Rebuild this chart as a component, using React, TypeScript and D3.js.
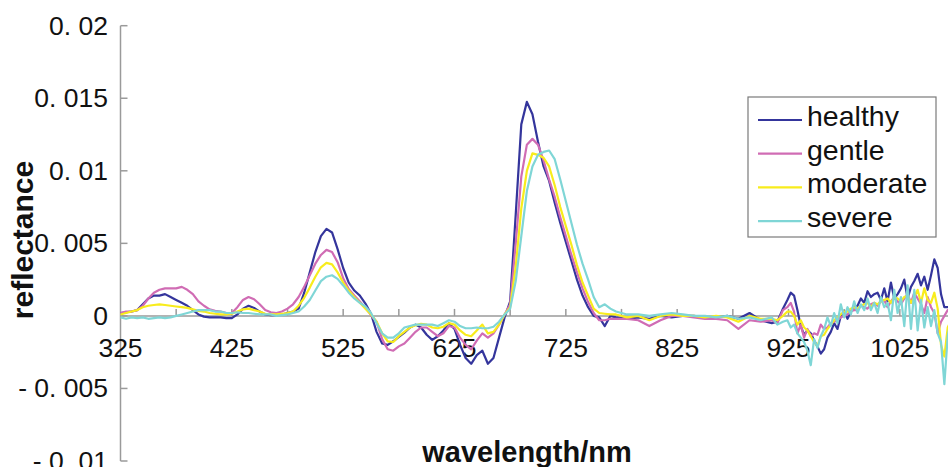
import * as d3 from "d3";

// wavelength samples (nm)
const wavelengths = [
  325, 330, 335, 340, 345, 350, 355, 360, 365, 370, 375, 380, 385, 390, 395, 400, 405, 410, 415, 420,
  425, 430, 435, 440, 445, 450, 455, 460, 465, 470, 475, 480, 485, 490, 495, 500, 505, 510, 515, 520,
  525, 530, 535, 540, 545, 550, 555, 560, 565, 570, 575, 580, 585, 590, 595, 600, 605, 610, 615, 620,
  625, 630, 635, 640, 645, 650, 655, 660, 665, 670, 675, 680, 685, 690, 695, 700, 705, 710, 715, 720,
  725, 730, 735, 740, 745, 750, 755, 760, 765, 770,
  780, 790, 800, 810, 820, 830, 840, 850, 860, 870, 880, 890, 900, 910,
  915, 920,
  924, 927, 930, 933, 936, 939, 942, 945, 948, 951, 954, 957, 960, 963, 966, 969, 972, 975, 978, 981,
  984, 987, 990, 993, 996, 999, 1002, 1005, 1008, 1011, 1014, 1017, 1020, 1023, 1026, 1029, 1032, 1035, 1038, 1041,
  1044, 1047, 1050, 1053, 1056, 1059, 1062, 1065, 1068, 1071, 1074,
];

// reflectance in units of 1e-3
const healthy = [
  0.2, 0.25, 0.3, 0.4, 0.8, 1.2, 1.4, 1.4, 1.5, 1.3,
  1.1, 0.9, 0.7, 0.4, 0.1, -0.05, -0.1, -0.1, -0.1, -0.15,
  -0.15, 0.1, 0.5, 0.7, 0.55, 0.3, 0.1, 0.05, 0.05, 0.1,
  0.2, 0.3, 0.5, 1.6, 3.0, 4.4, 5.5, 6.0, 5.75, 4.6,
  3.3, 2.3, 1.75, 1.4, 0.85, 0.15, -1.1, -1.9, -2.0, -1.75,
  -1.45, -1.15, -0.8, -0.6, -0.8, -1.3, -1.65, -1.4, -1.0, -0.5,
  -0.9, -2.0, -2.9, -3.3, -2.7, -2.4, -3.3, -2.9, -1.5, -0.1,
  1.0, 7.0, 13.2, 14.75, 13.9, 12.0, 10.3, 9.3, 7.8, 6.4,
  5.1, 3.8, 2.5, 1.4, 0.6, 0.0, -0.1, -0.7, 0.0, -0.1,
  -0.2, -0.1, -0.2, 0.0, -0.1, 0.0, 0.0, -0.1, -0.1, 0.0, -0.2, 0.2, -0.3, -0.5,
  -0.4, 0.5,
  1.1, 1.6, 1.4, 0.4, -0.7, -1.3, -1.0, -1.2, -1.7, -2.1,
  -2.6, -2.3, -1.5, -1.1, -0.5, -0.9, 0.0, 0.3, -0.2, 0.3,
  0.6, 0.7, 1.2, 0.9, 1.7, 1.3, 1.5, 1.6, 1.1, 1.9,
  1.0, 2.3, 1.2, 1.5, 1.9, 2.5, 1.2, 2.0, 2.4, 2.9,
  2.1, 2.7, 1.8, 2.8, 3.9, 3.3, 1.5, 0.6, 0.6, 0.6,
  0.6,
];

const gentle = [
  0.2, 0.3, 0.3, 0.4, 0.7, 1.2, 1.6, 1.8, 1.9, 1.9,
  1.9, 2.0, 1.8, 1.5, 1.0, 0.7, 0.45, 0.35, 0.3, 0.2,
  0.2, 0.6, 1.1, 1.3, 1.15, 0.8, 0.4, 0.25, 0.2, 0.3,
  0.5, 0.8, 1.3, 2.0, 2.8, 3.6, 4.2, 4.55, 4.4, 3.7,
  2.6, 1.85, 1.4, 1.0, 0.55, 0.05, -0.4, -1.6, -2.3, -2.4,
  -2.1, -1.9, -1.5, -1.1, -0.8, -0.8, -1.1, -1.4, -1.2, -0.7,
  -0.8, -1.5, -2.0, -2.3, -1.7, -1.2, -1.5, -1.2, -0.6, 0.1,
  0.8, 5.0, 9.6, 11.8, 12.2, 11.8, 10.7, 9.4, 8.2, 6.8,
  5.5, 4.2, 3.0, 1.9, 0.95, 0.2, -0.3, -0.3, -0.2, -0.2,
  -0.2, -0.3, -0.7, -0.3, 0.0, 0.0, -0.1, -0.2, -0.2, -0.3, -0.9, -0.3, -0.4, -0.3,
  -0.5, 0.4,
  0.6, 0.9, 0.3, -1.2, -0.6, -1.5, -0.9, -1.4, -1.2, -1.3,
  -0.6, -0.9, -0.8, -0.5, -0.4, -0.3, -0.1, 0.0, 0.1, 0.3,
  0.4, 0.4, 0.7, 0.6, 0.5, 0.8, 0.9, 0.7, 1.0, 1.1,
  0.6, 1.0, 1.3, 1.0, 0.8, 1.2, 1.5, 0.9, 1.6, 1.2,
  0.8, 0.2, 1.3, 0.6, 0.2, -1.2, -0.4, 0.0, 0.4, 0.3,
  0.3,
];

const moderate = [
  0.1, 0.2, 0.3, 0.4, 0.6, 0.7, 0.75, 0.8, 0.75, 0.7,
  0.65, 0.6, 0.55, 0.45, 0.35, 0.3, 0.2, 0.15, 0.1, 0.1,
  0.15, 0.3, 0.45, 0.5, 0.4, 0.3, 0.15, 0.1, 0.1, 0.15,
  0.2, 0.3, 0.7, 1.25, 1.95, 2.7, 3.35, 3.65, 3.55, 3.0,
  2.3, 1.75, 1.3, 0.9, 0.5, 0.1, -0.4, -1.2, -1.75, -1.8,
  -1.4, -1.1, -0.8, -0.65, -0.55, -0.6, -0.8, -0.85, -0.75, -0.5,
  -0.6, -1.0, -1.3, -1.4, -1.0, -0.6, -1.2, -1.1, -0.6, 0.1,
  0.6, 3.4, 7.4, 10.0, 11.2, 11.1, 10.9, 10.3, 9.0, 7.5,
  6.2, 4.9, 3.5, 2.3, 1.4, 0.5, 0.2, 0.15, 0.1, 0.1,
  -0.1, 0.0, -0.3, 0.0, 0.1, 0.0, 0.0, -0.1, 0.0, -0.1, -0.4, 0.0, -0.2, -0.2,
  -0.3, 0.0,
  0.3, 0.3, 0.0, -0.6, -0.3, -0.8, -1.0, -1.4, -1.8, -2.1,
  -1.4, -1.3, -0.9, -0.6, -0.3, -0.1, 0.1, 0.3, 0.3, 0.5,
  0.6, 0.5, 0.7, 0.8, 0.9, 0.6, 0.9, 0.8, 1.0, 1.1,
  1.2, 0.9, 1.3, 1.2, 1.0, 1.3, 1.4, 0.9, 1.3, 1.8,
  0.9, 1.9, 1.1, 0.9, 1.6, 0.5, -2.0, -2.8, -0.8, -0.3,
  0.0,
];

const severe = [
  -0.1, -0.2, -0.1, -0.15, -0.1, -0.2, -0.15, -0.1, -0.15, -0.1,
  0.0, 0.1, 0.2, 0.3, 0.4, 0.4, 0.4, 0.3, 0.3, 0.2,
  0.2, 0.25, 0.2, 0.2, 0.15, 0.1, 0.1, 0.1, 0.0, 0.05,
  0.1, 0.2, 0.3, 0.65, 1.1, 1.75, 2.4, 2.7, 2.8, 2.55,
  2.1, 1.6, 1.2, 0.9, 0.65, 0.2, -0.5, -1.2, -1.5, -1.5,
  -1.2, -0.8, -0.7, -0.6, -0.6, -0.6, -0.6, -0.7, -0.5, -0.3,
  -0.4, -0.7, -0.85, -0.85, -0.8, -0.85, -0.85, -0.75, -0.4, 0.1,
  0.5, 2.4, 5.5, 8.6, 10.3, 11.1, 11.3, 11.4, 10.8, 9.4,
  7.9, 6.4, 4.9, 3.6, 2.5, 1.3, 0.6, 0.8, 0.5, 0.3,
  0.1, 0.1, 0.0, 0.1, 0.2, 0.1, 0.0, 0.0, -0.1, 0.0, -0.2, -0.1, -0.3, -0.1,
  -0.6, -0.4,
  -0.3, -0.8, -0.6, -1.2, -1.5, -1.8, -2.4, -3.4, -1.6, -2.2,
  -1.4, -0.9, -0.1, -0.7, 0.2, -0.5, 0.8, -0.1, 0.6, 0.1,
  1.0, 0.2, 0.8, 0.4, 1.2, 0.4, 0.9, 0.2, 1.3, 0.6,
  0.9, -0.3, 1.8, 0.2, 1.3, -0.7, 2.1, -0.9, 1.8, -1.0,
  1.1, -0.8, 0.6, -0.7, 0.4, -1.2, -1.8, -4.7, -1.4, -0.2,
  0.2,
];

const seriesNames = ["healthy", "gentle", "moderate", "severe"];
const seriesColors = ["#34359c", "#d06cb4", "#f8ec1c", "#7fd6d6"];
const seriesData = [healthy, gentle, moderate, severe];

const yTickValues = [-0.01, -0.005, 0, 0.005, 0.01, 0.015, 0.02];
const yTickLabels = ["- 0. 01", "- 0. 005", "0", "0. 005", "0. 01", "0. 015", "0. 02"];
const xTickLabels = [325, 425, 525, 625, 725, 825, 925, 1025];
const xTickMarks = [375, 425, 475, 525, 575, 625, 675, 725, 775, 825, 875, 925, 975, 1025, 1075];

const W = 948;
const H = 467;
const font = "'Liberation Sans', Arial, sans-serif";

export default function App() {
  const x = d3.scaleLinear().domain([325, 1075]).range([120.5, 955.5]);
  const y = d3.scaleLinear().domain([-0.01, 0.02]).range([461, 25.7]);

  const line = d3
    .line<number>()
    .x((_, i) => x(wavelengths[i]))
    .y((d) => y(d * 0.001));

  const axisColor = "#9a9a9a";

  return (
    <svg
      width={W}
      height={H}
      style={{ position: "absolute", left: 0, top: 0, background: "#fff" }}
      fontFamily={font}
    >
      <rect width={W} height={H} fill="#fff" />

      {/* y axis */}
      <line x1={x(325)} x2={x(325)} y1={y(0.02)} y2={y(-0.01)} stroke={axisColor} strokeWidth={1.5} />
      {yTickValues.map((v, i) => (
        <g key={"yt" + i}>
          <line x1={x(325)} x2={x(325) + 7} y1={y(v)} y2={y(v)} stroke={axisColor} strokeWidth={1.5} />
          <text x={108} y={y(v) + 9} textAnchor="end" fontSize={26.5} fill="#111">
            {yTickLabels[i]}
          </text>
        </g>
      ))}

      {/* x axis at zero */}
      <line x1={x(325)} x2={W} y1={y(0)} y2={y(0)} stroke={axisColor} strokeWidth={1.5} />
      {xTickMarks.map((t) => (
        <line key={"xm" + t} x1={x(t)} x2={x(t)} y1={y(0)} y2={y(0) - 7} stroke={axisColor} strokeWidth={1.5} />
      ))}
      {xTickLabels.map((t) => (
        <text key={"xl" + t} x={x(t)} y={357} textAnchor="middle" fontSize={26.5} fill="#111">
          {t}
        </text>
      ))}

      {/* series */}
      {seriesData.map((s, i) => (
        <path
          key={seriesNames[i]}
          d={line(s) || ""}
          fill="none"
          stroke={seriesColors[i]}
          strokeWidth={2.2}
          strokeLinejoin="round"
        />
      ))}

      {/* axis titles */}
      <text
        transform="translate(33,240) rotate(-90)"
        textAnchor="middle"
        fontSize={30}
        fontWeight="bold"
        fill="#111"
      >
        reflectance
      </text>
      <text x={527} y={462} textAnchor="middle" fontSize={29} fontWeight="bold" fill="#111">
        wavelength/nm
      </text>

      {/* legend */}
      <rect x={748} y={97} width={188} height={140} fill="#fff" stroke="#7a7a7a" strokeWidth={1.2} />
      {seriesNames.map((name, i) => {
        const ly = 120 + i * 33.7;
        return (
          <g key={"lg" + name}>
            <line x1={758} x2={802} y1={ly} y2={ly} stroke={seriesColors[i]} strokeWidth={2.2} />
            <text x={807} y={ly + 6} fontSize={28.5} fill="#111">
              {name}
            </text>
          </g>
        );
      })}
    </svg>
  );
}
